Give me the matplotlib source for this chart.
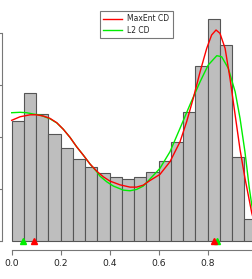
import numpy as np
import matplotlib
matplotlib.use("Agg")
import matplotlib.pyplot as plt
from matplotlib.lines import Line2D

# Histogram (density, bins of width 0.05 from 0 to 1)
bin_edges = np.round(np.arange(0, 1.0001, 0.05), 2)
densities = [1.157, 1.420, 1.221, 1.026, 0.891, 0.786, 0.709, 0.657, 0.613, 0.593,
             0.613, 0.661, 0.772, 0.955, 1.238, 1.683, 2.132, 1.885, 0.811, 0.209]

# MaxEnt CD curve
maxent_x = [0.000, 0.034, 0.075, 0.102, 0.129, 0.156, 0.184, 0.211, 0.238, 0.265,
            0.292, 0.320, 0.347, 0.374, 0.401, 0.442, 0.483, 0.510, 0.537, 0.564,
            0.605, 0.646, 0.687, 0.714, 0.741, 0.769, 0.796, 0.816, 0.834, 0.850,
            0.871, 0.891, 0.912, 0.932, 0.952, 0.980, 1.000]
maxent_y = [1.161, 1.195, 1.214, 1.214, 1.202, 1.180, 1.138, 1.074, 0.997, 0.907,
            0.827, 0.740, 0.673, 0.618, 0.577, 0.541, 0.519, 0.519, 0.538, 0.582,
            0.641, 0.763, 0.955, 1.147, 1.372, 1.628, 1.853, 1.981, 2.029, 1.997,
            1.853, 1.564, 1.212, 0.880, 0.606, 0.269, 0.100]

# L2 CD curve
l2_x = [0.000, 0.034, 0.061, 0.088, 0.116, 0.129, 0.156, 0.184, 0.211, 0.238,
        0.265, 0.292, 0.320, 0.347, 0.360, 0.388, 0.415, 0.456, 0.483, 0.510,
        0.537, 0.564, 0.605, 0.646, 0.687, 0.727, 0.769, 0.802, 0.837, 0.857,
        0.884, 0.912, 0.932, 0.952, 0.970, 0.980, 1.000]
l2_y = [1.234, 1.238, 1.234, 1.221, 1.212, 1.200, 1.176, 1.136, 1.074, 0.997,
        0.907, 0.827, 0.740, 0.668, 0.625, 0.570, 0.529, 0.490, 0.484, 0.497,
        0.529, 0.596, 0.699, 0.859, 1.084, 1.308, 1.532, 1.692, 1.782, 1.772,
        1.661, 1.436, 1.180, 0.859, 0.507, 0.346, 0.100]

# modes marked on the x axis
maxent_modes = [0.091, 0.827]
l2_modes = [0.045, 0.838]

W, H = 252, 279
fig = plt.figure(figsize=(W / 100, H / 100), dpi=100)
fig.patch.set_facecolor("white")

# plot region in pixels (R-style, partly outside the picture)
left_px, right_px, top_px, bottom_px = 1.9, 266.5, 10.4, 250.0
ax = fig.add_axes([left_px / W, 1 - bottom_px / H,
                   (right_px - left_px) / W, (bottom_px - top_px) / H])

ax.bar(bin_edges[:-1], densities, width=0.05, align="edge",
       color="#bebebe", edgecolor="#555555", linewidth=0.8, zorder=1)

ax.plot(maxent_x, maxent_y, color="red", lw=1.0, zorder=3)
ax.plot(l2_x, l2_y, color="#00ee00", lw=1.0, zorder=2)

ax.plot(l2_modes, [0, 0], linestyle="none", marker="^", ms=4.2,
        color="#00ee00", zorder=4, clip_on=False)
ax.plot(maxent_modes, [0, 0], linestyle="none", marker="^", ms=4.2,
        color="red", zorder=5, clip_on=False)

ax.set_xlim(-0.04, 1.04)
ax.set_ylim(-0.0853, 2.2173)

for s in ["top", "right"]:
    ax.spines[s].set_visible(False)
for s in ["left", "bottom"]:
    ax.spines[s].set_color("#777777")
    ax.spines[s].set_linewidth(0.8)
ax.spines["left"].set_bounds(0, 2)
ax.spines["bottom"].set_bounds(0, 1)

# the 1.0 tick falls outside the picture
ax.set_xticks([0, 0.2, 0.4, 0.6, 0.8])
ax.set_xticklabels(["0.0", "0.2", "0.4", "0.6", "0.8"])
ax.set_yticks([0, 0.5, 1.0, 1.5, 2.0])
ax.set_yticklabels([])
ax.tick_params(axis="both", color="#777777", width=0.8, length=3.5,
               labelsize=6.6, labelcolor="#222222", pad=4)
ax.tick_params(axis="x", pad=3)

handles = [Line2D([], [], color="red", lw=1.0),
           Line2D([], [], color="#00ee00", lw=1.0)]
leg = fig.legend(handles, ["MaxEnt CD", "L2 CD"], loc="upper left",
                 bbox_to_anchor=(100 / W, 1 - 11 / H), borderaxespad=0,
                 fontsize=5.5, fancybox=False, edgecolor="#777777",
                 handlelength=2.4, handletextpad=0.7, borderpad=0.45,
                 labelspacing=0.3, framealpha=1)
leg.get_frame().set_linewidth(0.8)
for t in leg.get_texts():
    t.set_color("#222222")

fig.savefig("out.png", dpi=100, facecolor="white")
